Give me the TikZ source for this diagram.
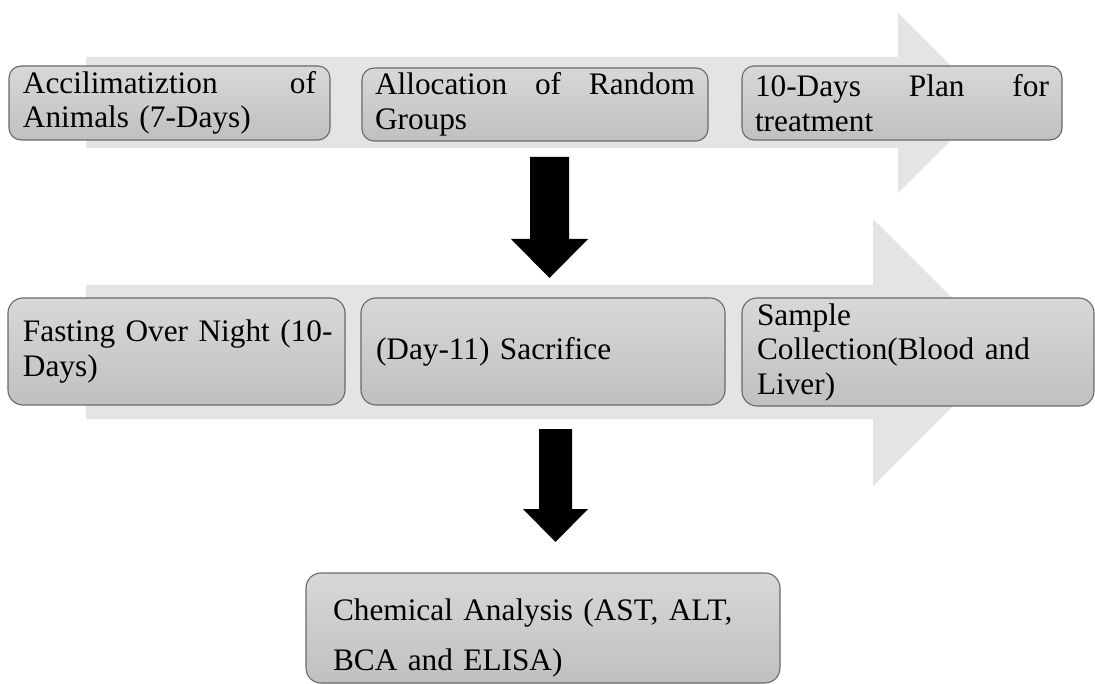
\documentclass[tikz,border=0pt]{standalone}
\usepackage{fontspec}
\setmainfont{Liberation Serif}
\definecolor{bgarrow}{RGB}{228,228,228}
\definecolor{boxtop}{RGB}{216,216,216}
\definecolor{boxbot}{RGB}{192,192,192}
\definecolor{boxline}{RGB}{105,105,105}
\tikzset{
  stepbox/.style={draw=boxline, line width=1.1pt, rounded corners=12pt,
    top color=boxtop, bottom color=boxbot, align=left, inner ysep=0pt,
    font=\fontsize{31.3}{34.5}\selectfont},
  bigarrow/.style={fill=bgarrow, draw=none},
  downarrow/.style={fill=black, draw=none}
}
\begin{document}
\begin{tikzpicture}[x=1pt,y=-1pt]
\clip (0,0) rectangle (1095,684);
\fill[white] (0,0) rectangle (1095,684);
% background process arrows
\fill[bigarrow] (86,57) -- (898,57) -- (898,13) -- (988,103) -- (898,193) -- (898,148) -- (86,148) -- cycle;
\fill[bigarrow] (86,285) -- (873,285) -- (873,219) -- (1006.5,352.5) -- (873,486) -- (873,419) -- (86,419) -- cycle;
% row 1
\node[stepbox, minimum width=321pt, minimum height=74pt, inner xsep=14pt, text width=293pt] (a) at (169.5,103)
  {Accilimatiztion\hfill of\\Animals (7-Days)};
\node[stepbox, minimum width=346pt, minimum height=73pt, inner xsep=13pt, text width=320pt] (b) at (535,104.5)
  {Allocation\hfill of\hfill Random\\Groups};
\node[stepbox, minimum width=320pt, minimum height=74pt, inner xsep=13pt, text width=294pt] (c) at (902,103)
  {10-Days\hfill Plan\hfill for\\treatment};
% row 2
\node[stepbox, rounded corners=15pt, minimum width=337pt, minimum height=107pt, inner xsep=15pt, text width=307pt] (d) at (176.5,351.5)
  {\mbox{Fasting Over Night (10-}\\Days)};
\node[stepbox, rounded corners=15pt, minimum width=364pt, minimum height=107pt, inner xsep=15pt, text width=334pt] (e) at (543,351.5)
  {(Day-11) Sacrifice};
\node[stepbox, rounded corners=15pt, minimum width=352pt, minimum height=108pt, inner xsep=15pt, text width=322pt] (f) at (918,352)
  {Sample\\Collection(Blood and\\Liver)};
% row 3
\node[stepbox, rounded corners=15pt, minimum width=474pt, minimum height=110pt, inner xsep=27pt, text width=420pt,
  font=\fontsize{31.3}{50}\selectfont, text height=21pt, text depth=37pt] (g) at (543,628)
  {Chemical Analysis (AST, ALT,\\BCA and ELISA)};
% black down arrows
\coordinate (t1) at (549.5,157);
\coordinate (t2) at (555.5,429);
\fill[downarrow] ([xshift=-19.5pt]t1) -- ([xshift=19.5pt]t1) -- ([xshift=19.5pt,yshift=-82pt]t1) -- ([xshift=38.5pt,yshift=-82pt]t1)
  -- ([yshift=-121pt]t1) -- ([xshift=-38.5pt,yshift=-82pt]t1) -- ([xshift=-19.5pt,yshift=-82pt]t1) -- cycle;
\fill[downarrow] ([xshift=-16.5pt]t2) -- ([xshift=16.5pt]t2) -- ([xshift=16.5pt,yshift=-80pt]t2) -- ([xshift=32.5pt,yshift=-80pt]t2)
  -- ([yshift=-113pt]t2) -- ([xshift=-32.5pt,yshift=-80pt]t2) -- ([xshift=-16.5pt,yshift=-80pt]t2) -- cycle;
\end{tikzpicture}
\end{document}
